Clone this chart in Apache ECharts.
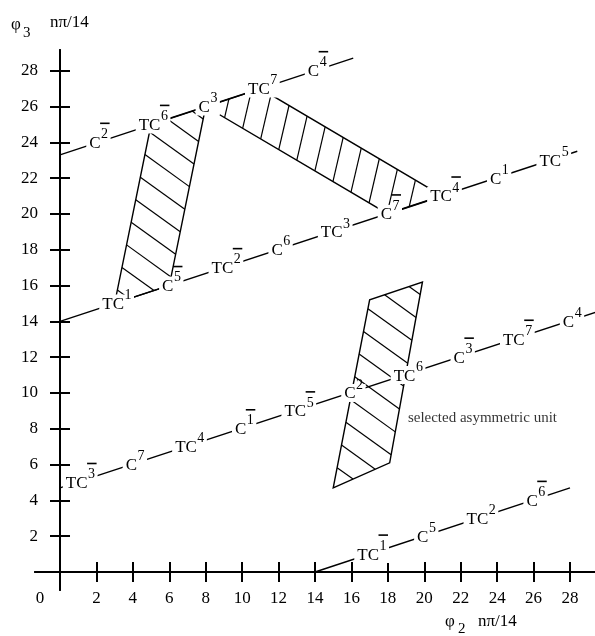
<!DOCTYPE html>
<html><head><meta charset="utf-8">
<script src="https://cdn.jsdelivr.net/npm/echarts@6/dist/echarts.min.js"></script>
<style>html,body{margin:0;padding:0;background:#fff}#c{width:595px;height:636px}</style>
</head><body><div id="c"></div>
<script>
// ---------------- data (φ2, φ3 in units of nπ/14) ----------------
const xTicks = [2,4,6,8,10,12,14,16,18,20,22,24,26,28];
const yTicks = [2,4,6,8,10,12,14,16,18,20,22,24,26,28];

// pseudorotation paths (end points)
const lineTop    = [[0,23.3],[16.1,28.7]];
const lineMid    = [[0,14],[28.4,23.5]];
const lineLow    = [[0,4.7],[29.4,14.5]];
const lineBottom = [[14,0],[28,4.7]];

// conformation labels: [φ2, φ3, base, superscript, overbar]
const labelsTop = [[2,24,'C','2',1],[5,25,'TC','6',1],[8,26,'C','3',0],[11,27,'TC','7',0],[14,28,'C','4',1]];
const labelsMid = [[3,15,'TC','1',0],[6,16,'C','5',1],[9,17,'TC','2',1],[12,18,'C','6',0],[15,19,'TC','3',0],
                   [18,20,'C','7',1],[21,21,'TC','4',1],[24,22,'C','1',0],[27,23,'TC','5',0]];
const labelsLow = [[1,5,'TC','3',1],[4,6,'C','7',0],[7,7,'TC','4',0],[10,8,'C','1',1],[13,9,'TC','5',1],
                   [16,10,'C','2',0],[19,11,'TC','6',0],[22,12,'C','3',1],[25,13,'TC','7',1],[28,14,'C','4',0]];
const labelsBottom = [[17,1,'TC','1',1],[20,2,'C','5',0],[23,3,'TC','2',0],[26,4,'C','6',1]];

// hatched regions (vertices)
const unitA = [[3,15],[6,16],[8,26],[5,25]];
const unitB = [[8,26],[11,27],[21,21],[18,20]];
const unitC = [[15,4.7],[18.1,6.1],[19.9,16.2],[17,15.2]];

const annotationAt = [19.1, 8.6];
const annotationText = 'selected asymmetric unit';

// ---------------- styles ----------------
const SERIF = '"Liberation Serif","Times New Roman",serif';
const mainFont = '17px ' + SERIF;
const supFont = '14px ' + SERIF;
const hatchStyles = [
  {dir:[1,0.72], gap:21, phase:0.55},
  {dir:[-1,4.3], gap:20, phase:0.5},
  {dir:[1,0.72], gap:21, phase:0.55}
];
const X_MIN = -1.373, X_MAX = 29.373, Y_MIN = -1.005, Y_MAX = 29.156;

const allLabels = labelsTop.concat(labelsMid, labelsLow, labelsBottom);
const units = [unitA, unitB, unitC];

const mctx = document.createElement('canvas').getContext('2d');
function tw(t, f){ mctx.font = f; return mctx.measureText(t).width; }

function hatchSegs(pts, st){
  const L = Math.hypot(st.dir[0], st.dir[1]);
  const d = [st.dir[0]/L, st.dir[1]/L];
  const n = [-d[1], d[0]];
  const proj = pts.map(p => p[0]*n[0] + p[1]*n[1]);
  const lo = Math.min.apply(null, proj), hi = Math.max.apply(null, proj);
  const segs = [];
  for (let c = lo + st.gap*st.phase; c < hi - 2; c += st.gap){
    const hits = [];
    for (let i = 0; i < pts.length; i++){
      const j = (i+1) % pts.length;
      const pa = proj[i], pb = proj[j];
      if ((pa - c) * (pb - c) < 0){
        const t = (c - pa) / (pb - pa);
        hits.push([pts[i][0] + (pts[j][0]-pts[i][0])*t, pts[i][1] + (pts[j][1]-pts[i][1])*t]);
      }
    }
    if (hits.length >= 2) segs.push(hits);
  }
  return segs;
}

function renderUnit(params, api){
  const pts = [0,1,2,3].map(i => api.coord([api.value(2*i), api.value(2*i+1)]));
  const st = hatchStyles[params.dataIndex];
  const children = [{
    type:'polygon', shape:{points:pts},
    style:{fill:'none', stroke:'#000', lineWidth:1.4}
  }];
  hatchSegs(pts, st).forEach(s => children.push({
    type:'line', shape:{x1:s[0][0], y1:s[0][1], x2:s[1][0], y2:s[1][1]},
    style:{stroke:'#000', lineWidth:1.2}
  }));
  return {type:'group', children};
}

function renderLabel(params, api){
  const Lb = allLabels[params.dataIndex];
  const p = api.coord([api.value(0), api.value(1)]);
  const base = Lb[2], sup = Lb[3], bar = Lb[4];
  const w1 = tw(base, mainFont), w2 = tw(sup, supFont);
  const x0 = p[0] - (w1 + w2)/2 + 2;
  const cy = p[1];
  const ch = [
    {type:'rect', shape:{x:x0-3, y:cy-9, width:w1+w2+6, height:18}, style:{fill:'#fff'}},
    {type:'text', style:{text:base, x:x0, y:cy+1, font:mainFont, fill:'#000',
      textAlign:'left', align:'left', textVerticalAlign:'middle', verticalAlign:'middle'}},
    {type:'text', style:{text:sup, x:x0+w1+0.5, y:cy-8, font:supFont, fill:'#000',
      textAlign:'left', align:'left', textVerticalAlign:'middle', verticalAlign:'middle'}}
  ];
  if (bar) ch.push({type:'line', shape:{x1:x0+w1-0.5, y1:cy-19, x2:x0+w1+w2+2, y2:cy-19},
    style:{stroke:'#000', lineWidth:1.6}});
  return {type:'group', children:ch};
}

const axisCommon = {color:'#000', width:2};
function gtext(text, x, y, size){
  return {type:'text', x:x, y:y, silent:true,
    style:{text:text, font:size+'px '+SERIF, fill:'#000',
      textAlign:'left', align:'left', textVerticalAlign:'middle', verticalAlign:'middle'}};
}

const chart = echarts.init(document.getElementById('c'), null, {renderer:'canvas', width:595, height:636});
chart.setOption({
  animation:false,
  backgroundColor:'#fff',
  grid:{left:35, right:0, top:50, bottom:46, containLabel:false, outerBoundsMode:'none'},
  xAxis:[
    {type:'value', min:X_MIN, max:X_MAX, position:'bottom',
     axisLine:{onZero:true, onZeroAxisIndex:0, lineStyle:axisCommon},
     axisTick:{show:true, customValues:xTicks, length:10, lineStyle:axisCommon},
     axisLabel:{show:true, customValues:[0].concat(xTicks), margin:0, color:'#000',
       fontFamily:SERIF, fontSize:17,
       formatter:function(v){ return v === 0 ? '{z|0}' : String(v); },
       rich:{z:{padding:[0,40,0,0], fontFamily:SERIF, fontSize:17, color:'#000'}}},
     splitLine:{show:false}},
    {type:'value', min:X_MIN, max:X_MAX, position:'bottom',
     axisLine:{onZero:true, onZeroAxisIndex:1, lineStyle:axisCommon},
     axisTick:{show:true, inside:true, customValues:xTicks, length:10, lineStyle:axisCommon},
     axisLabel:{show:false}, splitLine:{show:false}}
  ],
  yAxis:[
    {type:'value', min:Y_MIN, max:Y_MAX, position:'left',
     axisLine:{onZero:true, onZeroAxisIndex:0, lineStyle:axisCommon},
     axisTick:{show:true, customValues:yTicks, length:10, lineStyle:axisCommon},
     axisLabel:{show:true, customValues:yTicks, margin:-3, color:'#000', fontFamily:SERIF, fontSize:17},
     splitLine:{show:false}},
    {type:'value', min:Y_MIN, max:Y_MAX, position:'left',
     axisLine:{onZero:true, onZeroAxisIndex:1, lineStyle:axisCommon},
     axisTick:{show:true, inside:true, customValues:yTicks, length:10, lineStyle:axisCommon},
     axisLabel:{show:false}, splitLine:{show:false}}
  ],
  graphic:[
    gtext('φ', 11, 25, 17), gtext('3', 23, 33, 15), gtext('nπ/14', 50, 23, 17),
    gtext('φ', 445, 622, 17), gtext('2', 458, 629, 15), gtext('nπ/14', 478, 622, 17)
  ],
  series:[
    ...[lineTop, lineMid, lineLow, lineBottom].map(d => ({
      type:'line', data:d, symbol:'none', silent:true, z:2,
      lineStyle:{color:'#000', width:1.4}
    })),
    {type:'custom', data:units.map(u => [].concat(...u)),
     dimensions:['x1','y1','x2','y2','x3','y3','x4','y4'],
     encode:{x:[0,2,4,6], y:[1,3,5,7]},
     renderItem:renderUnit, z:3, silent:true, clip:false},
    {type:'custom', data:allLabels.map(l => [l[0], l[1]]),
     renderItem:renderLabel, z:5, silent:true, clip:false},
    {type:'scatter', data:[annotationAt], symbolSize:0, silent:true, z:4,
     label:{show:true, position:'right', distance:0, formatter:annotationText,
       fontFamily:SERIF, fontSize:15, color:'#000'}}
  ]
});
</script>
</body></html>
